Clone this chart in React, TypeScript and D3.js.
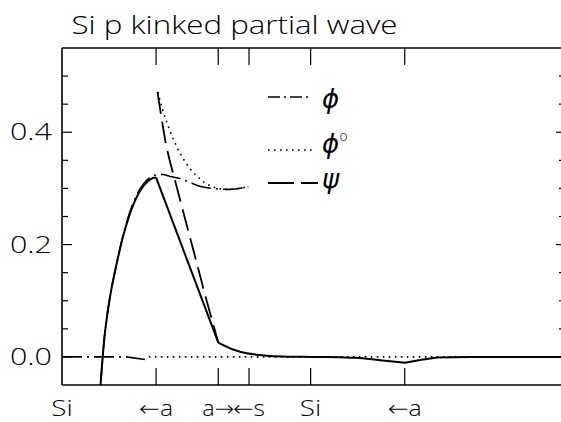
import React from "react";
import * as d3 from "d3";

const W = 561;
const H = 422;

const titleText = "Si p kinked partial wave";

// x in bohr along the Si–Si line, y = wave amplitude
const solidRise: [number, number][] = [
  [0.648, -0.1], [0.6875, -0.05], [0.7268, 0.0], [0.7679, 0.0443], [0.857, 0.1066],
  [0.982, 0.1689], [1.107, 0.2206], [1.25, 0.2651], [1.393, 0.2954], [1.536, 0.3132],
  [1.607, 0.3176], [1.679, 0.3197],
];
const solidDrop: [number, number][] = [[1.679, 0.3197], [2.791, 0.0253]];
const solidTail: [number, number][] = [
  [2.791, 0.0253], [2.911, 0.0194], [3.054, 0.0132], [3.298, 0.0064], [3.536, 0.0034],
  [3.714, 0.0016], [4.071, 0.0004], [4.446, 0.0], [4.964, -0.0007], [5.25, -0.0015],
  [5.679, -0.0058], [6.125, -0.0103],
];
const solidFar: [number, number][] = [
  [6.125, -0.0103], [6.393, -0.0055], [6.696, -0.001], [7.286, 0.0], [9.0, 0.0],
];

const phiUpper: [number, number][] = [
  [0.648, -0.1], [0.6875, -0.05], [0.727, 0.0], [0.768, 0.0443], [0.857, 0.1066],
  [0.982, 0.1689], [1.107, 0.2224], [1.25, 0.2687], [1.393, 0.2989], [1.536, 0.3167],
  [1.679, 0.3239], [1.804, 0.3247], [1.929, 0.3212], [2.107, 0.3176], [2.286, 0.3105],
  [2.495, 0.303], [2.696, 0.2998], [2.911, 0.2984], [3.054, 0.2984], [3.196, 0.3007],
  [3.327, 0.303],
];
const phiLower: [number, number][] = [[0.0, 0.0], [1.15, 0.0], [1.48, -0.0045]];

const phiDotUpper: [number, number][] = [
  [1.714, 0.4716], [1.768, 0.4502], [1.839, 0.4271], [1.929, 0.4021], [2.018, 0.3808],
  [2.107, 0.363], [2.214, 0.3452], [2.321, 0.331], [2.446, 0.3185], [2.571, 0.3087],
  [2.714, 0.302], [2.857, 0.2989], [3.0, 0.2984], [3.179, 0.3002], [3.321, 0.303],
];
const phiDotZero: [number, number][] = [[1.55, 0.0], [9.0, 0.0]];

const psiUpper: [number, number][] = [
  [1.705, 0.4716], [1.786, 0.42], [1.875, 0.37], [2.054, 0.3005], [2.232, 0.233],
  [2.411, 0.1654], [2.589, 0.0977], [2.714, 0.0532], [2.791, 0.0253],
];

const xTickVals = [0, 1.68, 2.79, 3.34, 4.44, 6.12];
const xTickLabels = ["Si", "\u2190a", "a\u2192", "\u2190s", "Si", "\u2190a"];
const xLabelWidths = [21.5, 34, 32, 32, 21.5, 34];

const yMajor = [0, 0.2, 0.4];
const yMajorLabels = ["0.0", "0.2", "0.4"];
const yMinor = [0.05, 0.1, 0.15, 0.25, 0.3, 0.35, 0.45, 0.5];

const legendNames = ["\u03d5", "\u03d5", "\u03c8"];

const L = 62, R = 566, T = 48, B = 385;

export default function App() {
  const x = d3.scaleLinear().domain([0, 9]).range([L, R]);
  const y = d3.scaleLinear().domain([-0.05, 0.55]).range([B, T]);

  const mk = (curve: d3.CurveFactory) =>
    d3.line<[number, number]>().x((d) => x(d[0])).y((d) => y(d[1])).curve(curve);
  const smooth = mk(d3.curveCatmullRom);
  const lin = mk(d3.curveLinear);

  const font = "'Open Sans', 'DejaVu Sans', sans-serif";
  const symFont = "'DejaVu Sans', sans-serif";
  const ink = "#000";

  return (
    <svg width={W} height={H} style={{ position: "absolute", left: 0, top: 0, background: "#fff" }}>
      <rect x={0} y={0} width={W} height={H} fill="#fff" />
      <defs>
        <clipPath id="plot">
          <rect x={L} y={T} width={R - L} height={B - T} />
        </clipPath>
      </defs>

      <text x={71.5} y={34} fontFamily={font} fontWeight={300} fontSize={26} textLength={326} lengthAdjust="spacingAndGlyphs" fill={ink}>
        {titleText}
      </text>

      {/* frame */}
      <g stroke={ink} strokeWidth={1.6} fill="none">
        <line x1={L} y1={T} x2={R} y2={T} />
        <line x1={L} y1={B} x2={R} y2={B} />
        <line x1={L} y1={T} x2={L} y2={B} />
        <line x1={R} y1={T} x2={R} y2={B} />
      </g>

      {/* x ticks */}
      <g stroke={ink} strokeWidth={1.2}>
        {xTickVals.slice(1).map((v, i) => (
          <g key={i}>
            <line x1={x(v)} x2={x(v)} y1={B} y2={B - 17} />
            <line x1={x(v)} x2={x(v)} y1={T} y2={T + 17} />
          </g>
        ))}
      </g>
      {xTickVals.map((v, i) => (
        <text key={i} x={x(v)} y={416} textAnchor="middle" fontFamily={font} fontWeight={300} fontSize={22}
          textLength={xLabelWidths[i]} lengthAdjust="spacingAndGlyphs" fill={ink}>
          {xTickLabels[i]}
        </text>
      ))}

      {/* y ticks */}
      <g stroke={ink} strokeWidth={1.2}>
        {yMajor.map((v, i) => (
          <g key={"M" + i}>
            <line x1={L} x2={L + 10} y1={y(v)} y2={y(v)} />
            <line x1={R} x2={R - 10} y1={y(v)} y2={y(v)} />
          </g>
        ))}
        {yMinor.map((v, i) => (
          <g key={"m" + i}>
            <line x1={L} x2={L + 6} y1={y(v)} y2={y(v)} />
            <line x1={R} x2={R - 7} y1={y(v)} y2={y(v)} />
          </g>
        ))}
      </g>
      {yMajor.map((v, i) => (
        <text key={i} x={52} y={y(v) + 8} textAnchor="end" fontFamily={font} fontWeight={300} fontSize={23}
          textLength={42} lengthAdjust="spacingAndGlyphs" fill={ink}>
          {yMajorLabels[i]}
        </text>
      ))}

      {/* curves */}
      <g clipPath="url(#plot)" fill="none" stroke={ink}>
        <path d={lin(phiLower) || ""} strokeWidth={1.6} strokeDasharray="20 5 2 5" />
        <path d={lin(phiDotZero) || ""} strokeWidth={1.6} strokeDasharray="1.6 4.4" />
        <path d={smooth(phiUpper) || ""} strokeWidth={1.6} strokeDasharray="20 5 2 5" />
        <path d={smooth(phiDotUpper) || ""} strokeWidth={1.6} strokeDasharray="1.6 4.4" />
        <path d={smooth(psiUpper) || ""} strokeWidth={1.8} strokeDasharray="22 8" />
        <path d={smooth(solidRise) || ""} strokeWidth={2} />
        <path d={lin(solidDrop) || ""} strokeWidth={2} />
        <path d={smooth(solidTail) || ""} strokeWidth={2} />
        <path d={lin(solidFar) || ""} strokeWidth={2} />
      </g>

      {/* legend */}
      <g fill="none" stroke={ink}>
        <line x1={268} x2={312} y1={97} y2={97} strokeWidth={1.6} strokeDasharray="12 4 2 4" />
        <line x1={268} x2={312} y1={150} y2={150} strokeWidth={1.6} strokeDasharray="1.6 4.4" />
        <line x1={268} x2={318} y1={183} y2={183} strokeWidth={1.8} strokeDasharray="26 7" />
      </g>
      <text x={322} y={108} fontFamily={symFont} fontWeight={200} fontSize={26} fontStyle="italic" fill={ink}>{legendNames[0]}</text>
      <text x={322} y={153} fontFamily={symFont} fontWeight={200} fontSize={26} fontStyle="italic" fill={ink}>
        {legendNames[1]}
        <tspan fontSize={14} dy={-12} fontStyle="normal">o</tspan>
      </text>
      <text x={322} y={188} fontFamily={symFont} fontWeight={200} fontSize={26} fontStyle="italic" fill={ink}>{legendNames[2]}</text>
    </svg>
  );
}
